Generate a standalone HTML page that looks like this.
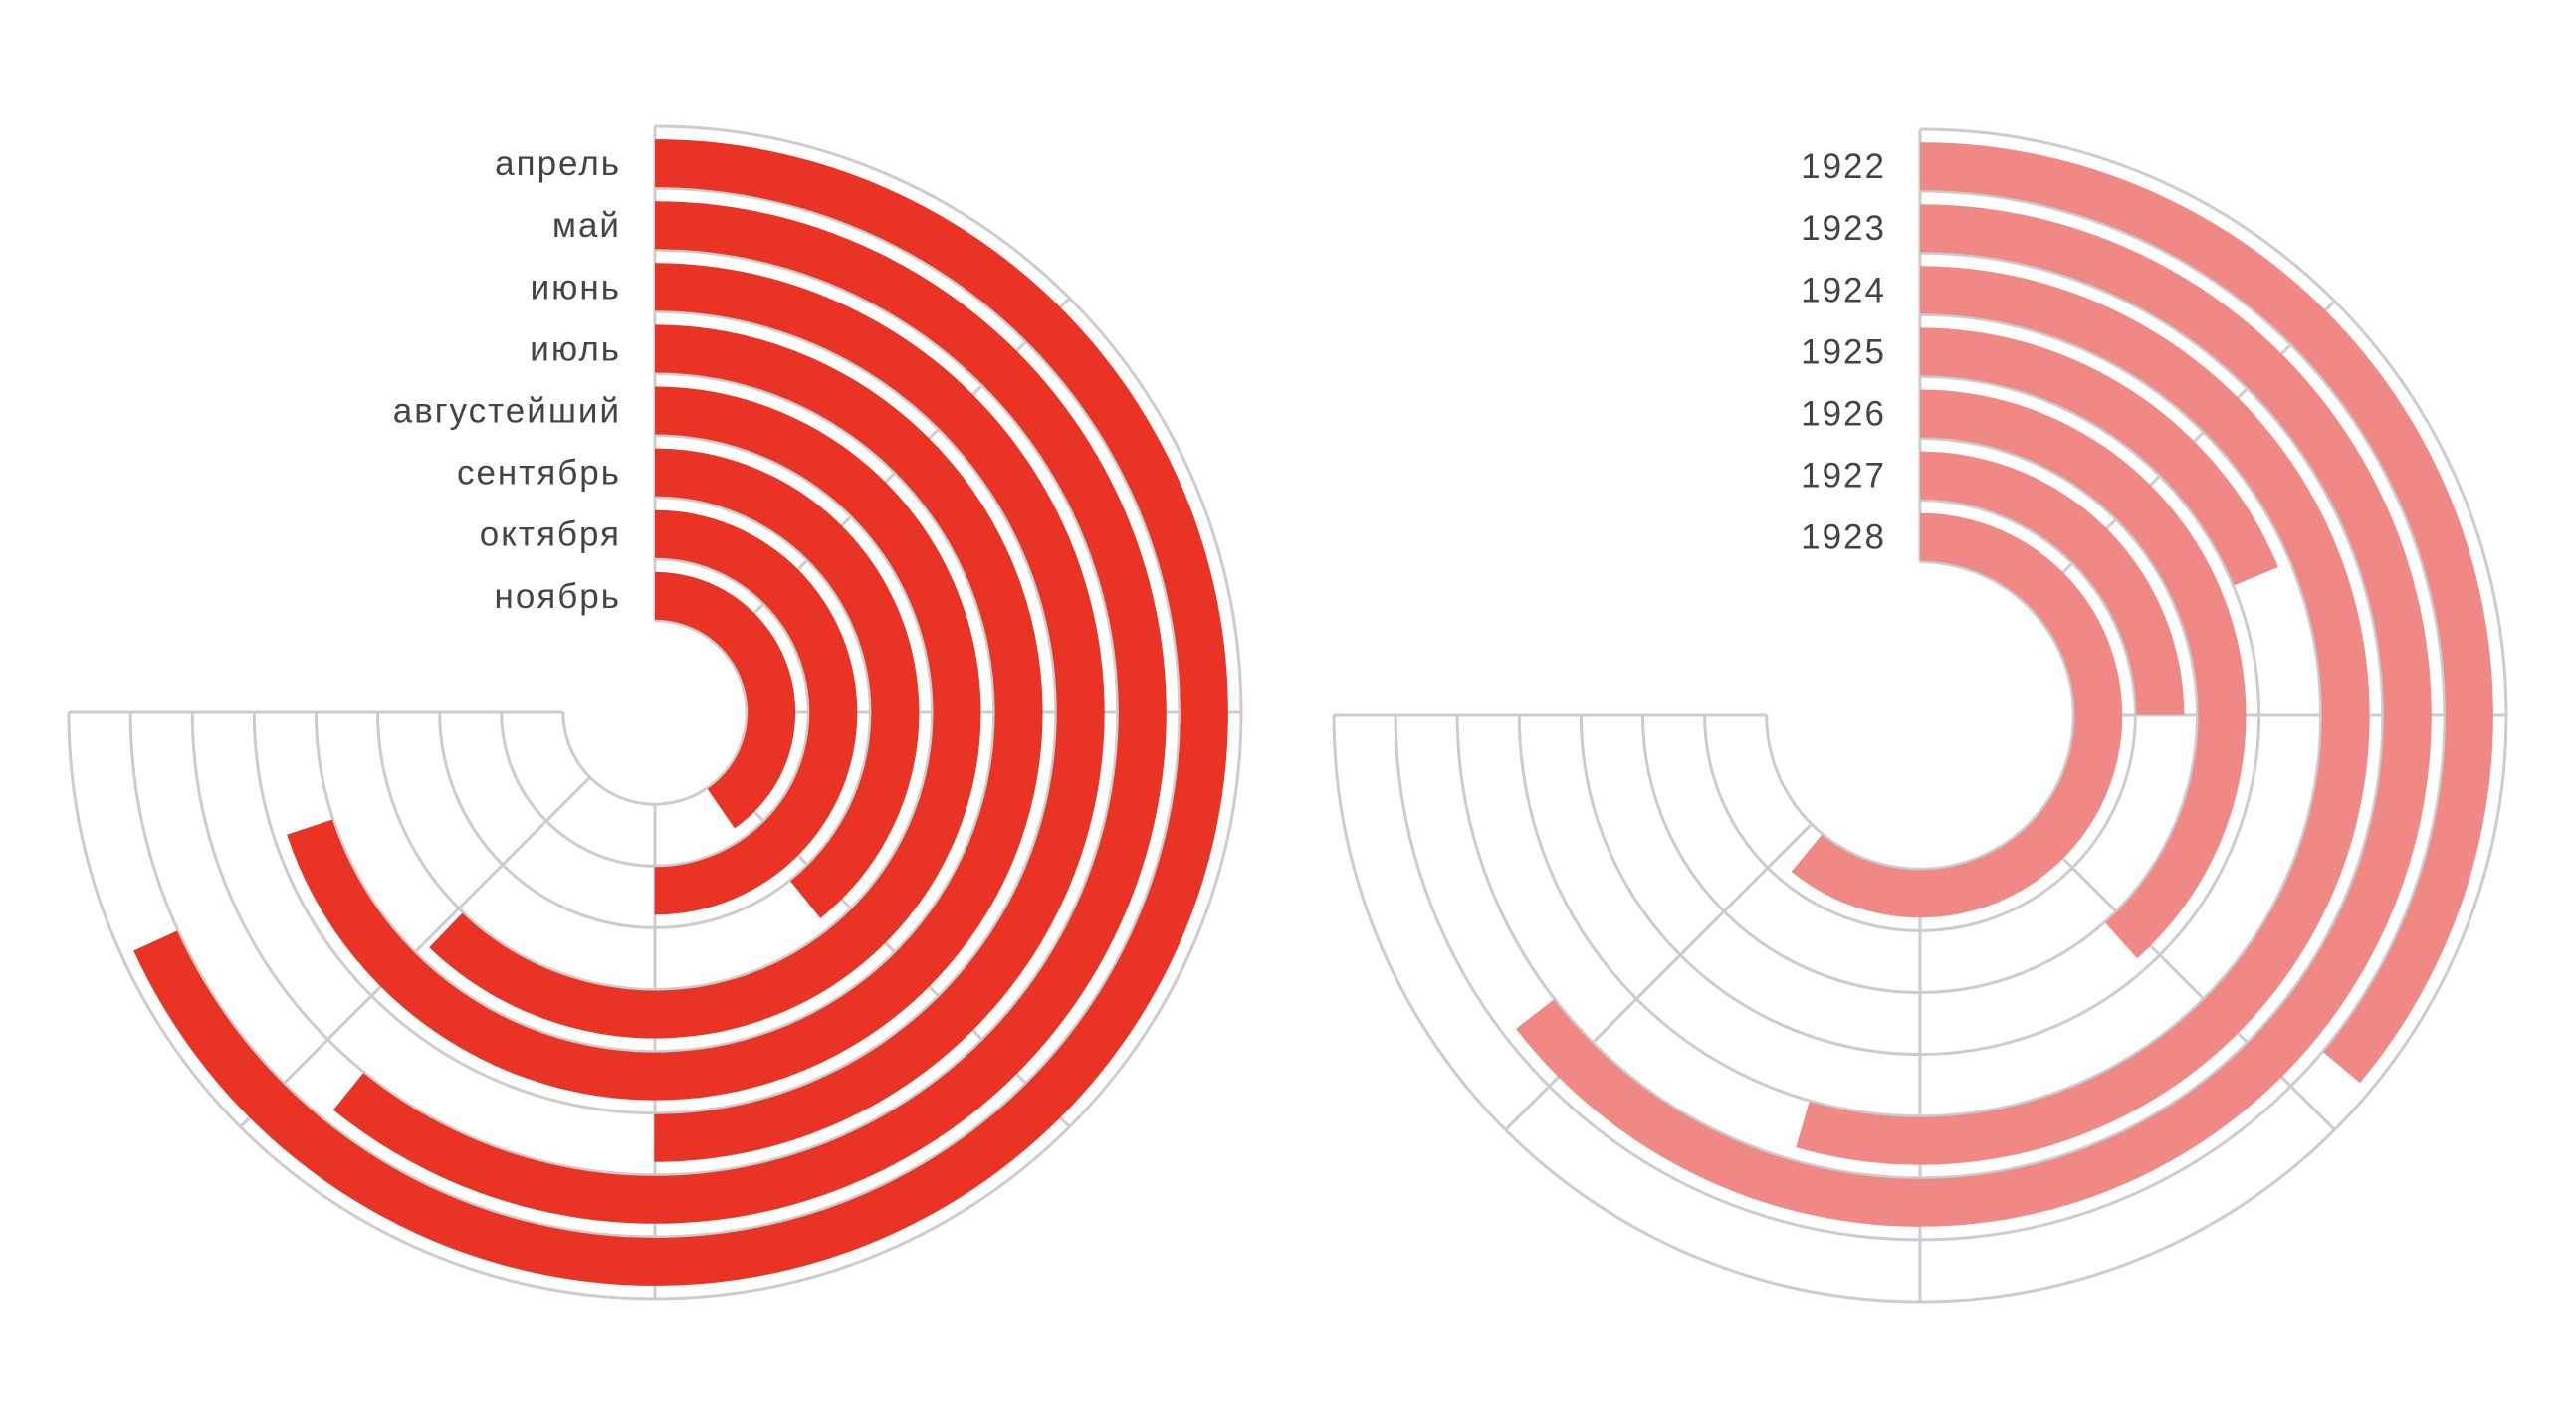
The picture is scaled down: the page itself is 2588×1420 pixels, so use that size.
<!DOCTYPE html>
<html><head><meta charset="utf-8">
<style>
html,body{margin:0;padding:0;background:#fff;}
svg{display:block;}
text{font-family:"Liberation Sans","DejaVu Sans",sans-serif;font-size:35px;fill:#444;letter-spacing:2px;}
</style></head>
<body>
<svg id="chart" width="2588" height="1420" viewBox="0 0 2588 1420" xmlns="http://www.w3.org/2000/svg">
<g id="left"></g>
<g id="right"></g>
</svg>
<script>
// Left chart data (value on 0-100 scale, 100 = 270 degrees)
const leftCategories = ["апрель","май","июнь","июль","августейший","сентябрь","октября","ноябрь"];
const leftValues = [90.9, 81.1, 66.7, 93.2, 82.9, 52.3, 66.7, 53.9];
// Right chart data
const rightCategories = ["1922","1923","1924","1925","1926","1927","1928"];
const rightValues = [48.1, 86.0, 72.6, 25.0, 51.2, 33.3, 81.3];
const maxValue = 100;

const NS = "http://www.w3.org/2000/svg";
function P(cx,cy,r,a){const t=a*Math.PI/180;return [cx+r*Math.sin(t), cy-r*Math.cos(t)];}
function angle(v){return v/maxValue*270;}

function draw(gid, cats, vals, cx, cy, color, prefix){
  const g=document.getElementById(gid);
  const band=62.1, n=cats.length, outer=589, inner=outer-band*n;
  for(let k=0;k<=n;k++){
    const r=inner+k*band;
    const a=P(cx,cy,r,0), b=P(cx,cy,r,270);
    const p=document.createElementNS(NS,"path");
    p.setAttribute("d",`M${a[0]},${a[1]} A${r},${r} 0 1 1 ${b[0]},${b[1]}`);
    p.setAttribute("fill","none");p.setAttribute("stroke","#cccccc");p.setAttribute("stroke-width","3");
    
    
    g.appendChild(p);
  }
  for(let a=0;a<=270;a+=45){
    const s=P(cx,cy,inner,a), e=P(cx,cy,outer,a);
    const l=document.createElementNS(NS,"line");
    l.setAttribute("x1",s[0]);l.setAttribute("y1",s[1]);l.setAttribute("x2",e[0]);l.setAttribute("y2",e[1]);
    l.setAttribute("stroke","#cccccc");l.setAttribute("stroke-width","3");
    
    
    g.appendChild(l);
  }
  for(let i=0;i<n;i++){
    const r0=outer-band*(i+1)+1, r1=r0+48;
    const ang=angle(vals[i]);
    const large=ang>180?1:0;
    const a0=P(cx,cy,r1,0), a1=P(cx,cy,r1,ang), b1=P(cx,cy,r0,ang), b0=P(cx,cy,r0,0);
    const p=document.createElementNS(NS,"path");
    p.setAttribute("d",`M${a0[0]},${a0[1]} A${r1},${r1} 0 ${large} 1 ${a1[0]},${a1[1]} L${b1[0]},${b1[1]} A${r0},${r0} 0 ${large} 0 ${b0[0]},${b0[1]} Z`);
    p.setAttribute("fill",color);
    
    
    g.appendChild(p);
    const t=document.createElementNS(NS,"text");
    t.setAttribute("x",cx-34);t.setAttribute("y",cy-(r0+r1)/2+12);
    t.setAttribute("text-anchor","end");
    t.textContent=cats[i];
    
    
    g.appendChild(t);
  }
}
draw("left", leftCategories, leftValues, 658, 716, "#e83325", "month");
draw("right", rightCategories, rightValues, 1929, 719, "#f08985", "year");
</script>
</body></html>
